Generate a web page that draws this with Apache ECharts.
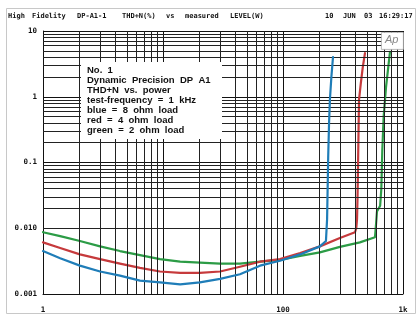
<!DOCTYPE html>
<html><head><meta charset="utf-8">
<script src="https://cdn.jsdelivr.net/npm/echarts@6/dist/echarts.min.js"></script>
<style>html,body{margin:0;padding:0;background:#fff}#c{width:417px;height:314px}</style>
</head><body><div id="c"></div>
<script>
// X categories / ticks
const xTicks = [1, 10, 100, 1000];
const xTickLabels = ['1', '', '100', '1k'];
const yTicks = [0.001, 0.01, 0.1, 1, 10];
const yTickLabels = ['0.001', '0.010', '0.1', '1', '10'];

// blue = 8 ohm load
const blueW   = [1, 1.39, 2.03, 2.99, 4.38, 6.43, 9.44, 13.9, 20.3, 29.9, 43.8, 64.3, 94.4, 139, 203, 228, 233, 236, 238, 242, 246, 253, 261];
const blueTHD = [0.0045, 0.0035, 0.0027, 0.0022, 0.0019, 0.0016, 0.0015, 0.0014, 0.0015, 0.0017, 0.0020, 0.0027, 0.0032, 0.0040, 0.0053, 0.0064, 0.0137, 0.05, 0.12, 0.4, 0.9, 2.0, 4.0];
// red = 4 ohm load
const redW   = [1, 1.39, 2.03, 2.99, 4.38, 6.43, 9.44, 13.9, 20.3, 29.9, 43.8, 64.3, 94.4, 139, 203, 298, 398, 408, 414, 418, 422, 426, 430, 445, 462, 482];
const redTHD = [0.0061, 0.0050, 0.0040, 0.0034, 0.0029, 0.0025, 0.0022, 0.0021, 0.0021, 0.0022, 0.0026, 0.0031, 0.0034, 0.0042, 0.0053, 0.0071, 0.0087, 0.0100, 0.0137, 0.03, 0.09, 0.3, 0.9, 1.6, 2.8, 4.6];
// green = 2 ohm load
const greenW   = [1, 1.39, 2.03, 2.99, 4.38, 6.43, 9.44, 13.9, 20.3, 29.9, 43.8, 64.3, 94.4, 139, 203, 298, 437, 584, 596, 607, 630, 645, 660, 672, 690, 722, 779];
const greenTHD = [0.0087, 0.0076, 0.0064, 0.0053, 0.0045, 0.0039, 0.0034, 0.0031, 0.0030, 0.0029, 0.0029, 0.0031, 0.0033, 0.0038, 0.0043, 0.0052, 0.0061, 0.0073, 0.0115, 0.018, 0.017, 0.022, 0.04, 0.15, 0.5, 1.4, 4.8];

const noteLines = ['No.  1', 'Dynamic  Precision  DP  A1', 'THD+N  vs.  power', 'test-frequency  =  1  kHz', 'blue  =  8  ohm  load', 'red  =  4  ohm  load', 'green  =  2  ohm  load'];

const zip = (a, b) => a.map((v, i) => [v, b[i]]);

// minor log grid lines (2..9 in each decade)
const gridLines = [];
for (let d = 1; d < 1000; d *= 10) for (let k = 2; k <= 9; k++) gridLines.push({ xAxis: k * d });
for (let d = 0.001; d < 9; d *= 10) for (let k = 2; k <= 9; k++) gridLines.push({ yAxis: +(k * d).toPrecision(3) });

const chart = echarts.init(document.getElementById('c'), null, { renderer: 'canvas' });
const lab = { fontFamily: 'DejaVu Sans Mono', fontWeight: 'bold', fontSize: 7.5, color: '#111' };
const hdr = (t, x) => ({ type: 'text', left: x, top: 13, z: 50, style: { text: t, font: 'bold 7px "DejaVu Sans Mono"', fill: '#111' } });

chart.setOption({
  animation: false,
  backgroundColor: '#fff',
  grid: { left: 43, right: 14, top: 31, bottom: 19, containLabel: false },
  xAxis: {
    type: 'log', logBase: 10, min: 1, max: 1000,
    axisLine: { show: true, lineStyle: { color: '#111', width: 1 } },
    axisTick: { show: false },
    splitLine: { show: true, lineStyle: { color: '#111', width: 1 } },
    axisLabel: Object.assign({ margin: 12, formatter: v => { const i = xTicks.findIndex(t => Math.abs(t - v) / t < 1e-6); return i >= 0 ? xTickLabels[i] : ''; } }, lab)
  },
  yAxis: {
    type: 'log', logBase: 10, min: 0.001, max: 10,
    axisLine: { show: true, lineStyle: { color: '#111', width: 1 } },
    axisTick: { show: false },
    splitLine: { show: true, lineStyle: { color: '#111', width: 1 } },
    axisLabel: Object.assign({ margin: 6, formatter: v => { const i = yTicks.findIndex(t => Math.abs(t - v) / t < 1e-6); return i >= 0 ? yTickLabels[i] : ''; } }, lab)
  },
  series: [
    { type: 'line', data: [[1, 0.001]], symbol: 'none', silent: true, z: 1, lineStyle: { width: 0 },
      markLine: { silent: true, symbol: 'none', label: { show: false }, animation: false,
        lineStyle: { color: '#222', width: 1, type: 'solid' }, data: gridLines } },
    { type: 'line', name: 'green', data: zip(greenW, greenTHD), symbol: 'none', z: 3, lineStyle: { color: '#2c9c46', width: 2.2, join: 'round', cap: 'round' } },
    { type: 'line', name: 'red', data: zip(redW, redTHD), symbol: 'none', z: 4, lineStyle: { color: '#c63a3c', width: 2.2, join: 'round', cap: 'round' } },
    { type: 'line', name: 'blue', data: zip(blueW, blueTHD), symbol: 'none', z: 5, lineStyle: { color: '#1f7db8', width: 2.2, join: 'round', cap: 'round' } }
  ],
  graphic: [
    { type: 'rect', left: 4, top: 6, z: 0, shape: { width: 409, height: 305 }, style: { fill: 'none', stroke: '#c8c8c8', lineWidth: 1 } },
    hdr('High', 8), hdr('Fidelity', 32), hdr('DP-A1-1', 77), hdr('THD+N(%)', 122), hdr('vs', 166), hdr('measured', 185), hdr('LEVEL(W)', 230),
    hdr('10', 325), hdr('JUN', 343), hdr('03', 364), hdr('16:29:17', 379),
    { type: 'rect', left: 81, top: 62, z: 100, shape: { width: 141, height: 77 }, style: { fill: '#fff' } },
    { type: 'text', left: 87, top: 65, z: 101, style: { text: noteLines.join('\n'), font: 'bold 9.5px "Liberation Sans"', lineHeight: 10, fill: '#111' } },
    { type: 'rect', left: 381, top: 32, z: 100, shape: { width: 22, height: 17 }, style: { fill: '#fff', stroke: '#aaa', lineWidth: 0.8 } },
    { type: 'text', left: 385, top: 34, z: 101, style: { text: 'Ap', font: 'italic 11px "Liberation Sans"', fill: '#888' } }
  ]
});
</script></body></html>
